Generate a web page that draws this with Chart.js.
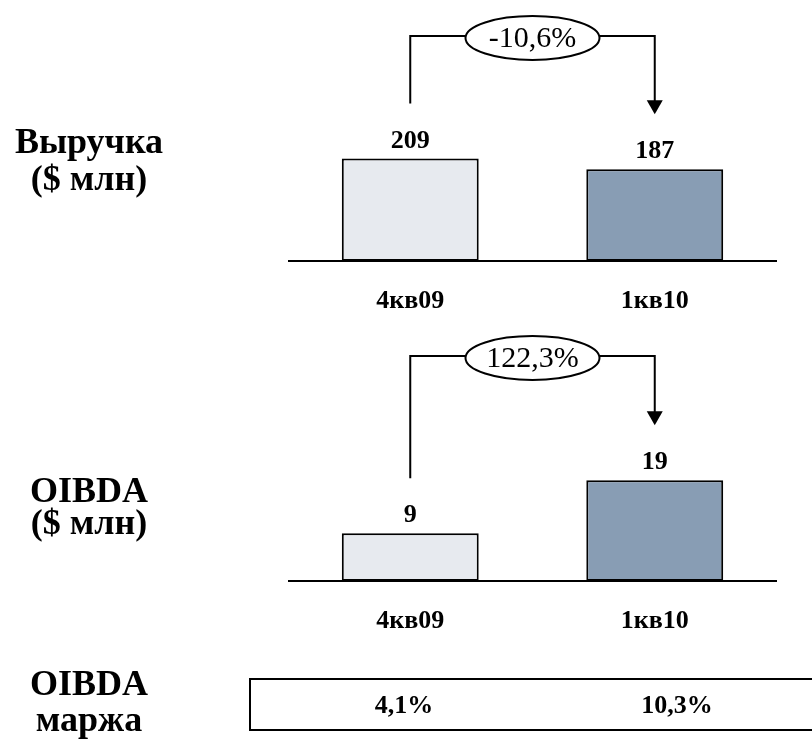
<!DOCTYPE html>
<html lang="ru">
<head>
<meta charset="utf-8">
<title>Выручка и OIBDA: 4кв09 – 1кв10</title>
<script src="https://cdn.jsdelivr.net/npm/chart.js@4/dist/chart.umd.min.js"></script>
<style>
  html, body { margin: 0; padding: 0; background: #ffffff; }
  #wrap { position: relative; width: 812px; height: 740px; overflow: hidden; }
  canvas { position: absolute; left: 0; }
  #revenueChart { top: 0; }
  #oibdaChart { top: 320px; }
</style>
</head>
<body>
<div id="wrap">
  <canvas id="revenueChart" width="812" height="320"></canvas>
  <canvas id="oibdaChart" width="812" height="420"></canvas>
</div>
<script>
// Quarters and reported figures
const quarters = ['4кв09', '1кв10'];
const revenue = [209, 187];          // $ млн
const oibda = [9, 19];               // $ млн
const revenueChange = -10.6;         // %
const oibdaChange = 122.3;           // %
const oibdaMargin = [4.1, 10.3];     // %

const barColors = ['#E7EAEF', '#889DB4'];
const SERIF = '"Liberation Serif", "Times New Roman", serif';

const fmtPct = v => v.toFixed(1).replace('.', ',') + '%';

function line(ctx, x1, y1, x2, y2) {
  ctx.beginPath();
  ctx.moveTo(x1, y1);
  ctx.lineTo(x2, y2);
  ctx.stroke();
}

// Baseline, value labels, quarter labels, change bracket and side captions
const annotate = {
  id: 'annotate',
  afterDraw(chart, args, opts) {
    const ctx = chart.ctx;
    const { left, right, top, bottom } = chart.chartArea;
    const meta = chart.getDatasetMeta(0);
    const values = chart.data.datasets[0].data;
    ctx.save();
    ctx.strokeStyle = '#000';
    ctx.fillStyle = '#000';
    ctx.lineWidth = 2;

    // axis baseline
    line(ctx, left, bottom, right, bottom);

    // values above bars and quarter names under the baseline
    ctx.textAlign = 'center';
    ctx.textBaseline = 'alphabetic';
    ctx.font = 'bold 26px ' + SERIF;
    meta.data.forEach((bar, i) => {
      ctx.fillText(String(values[i]), bar.x, bar.y - 11);
      ctx.fillText(chart.data.labels[i], bar.x, bottom + 47);
    });

    // change bracket with arrow
    const b0 = meta.data[0], b1 = meta.data[1];
    const yLine = top - 29;
    const cx = (b0.x + b1.x) / 2;
    const cy = yLine + 2;
    const rx = 67, ry = 22;
    const tipY = b1.y - 55;
    ctx.lineWidth = 2;
    ctx.beginPath();
    ctx.moveTo(b0.x, b0.y - 55);
    ctx.lineTo(b0.x, yLine);
    ctx.lineTo(cx - rx, yLine);
    ctx.stroke();
    ctx.beginPath();
    ctx.moveTo(cx + rx, yLine);
    ctx.lineTo(b1.x, yLine);
    ctx.lineTo(b1.x, tipY - 13);
    ctx.stroke();
    ctx.beginPath();
    ctx.moveTo(b1.x - 8, tipY - 14);
    ctx.lineTo(b1.x + 8, tipY - 14);
    ctx.lineTo(b1.x, tipY);
    ctx.closePath();
    ctx.fill();

    ctx.beginPath();
    ctx.ellipse(cx, cy, rx, ry, 0, 0, Math.PI * 2);
    ctx.fillStyle = '#fff';
    ctx.fill();
    ctx.stroke();
    ctx.fillStyle = '#000';
    ctx.font = '30px ' + SERIF;
    ctx.textBaseline = 'middle';
    ctx.fillText(fmtPct(opts.change), cx, cy + 1);

    // side caption
    ctx.textBaseline = 'alphabetic';
    ctx.font = 'bold 36px ' + SERIF;
    (opts.caption || []).forEach(c => ctx.fillText(c.text, 89, c.y));

    ctx.restore();
  }
};

// Margin strip under the OIBDA chart
const marginStrip = {
  id: 'marginStrip',
  afterDraw(chart, args, opts) {
    const ctx = chart.ctx;
    ctx.save();
    ctx.strokeStyle = '#000';
    ctx.lineWidth = 2;
    ctx.strokeRect(250, 359, 600, 51);
    ctx.fillStyle = '#000';
    ctx.font = 'bold 26px ' + SERIF;
    ctx.textAlign = 'center';
    ctx.textBaseline = 'alphabetic';
    const xs = [404, 677];
    oibdaMargin.forEach((m, i) => ctx.fillText(fmtPct(m), xs[i], 393));
    ctx.restore();
  }
};

function makeChart(id, values, yMax, bottomPad, change, caption, extra) {
  return new Chart(document.getElementById(id), {
    type: 'bar',
    data: {
      labels: quarters,
      datasets: [{
        data: values,
        backgroundColor: barColors,
        borderColor: '#000',
        borderWidth: 2,
        borderSkipped: false,
        categoryPercentage: 1,
        barPercentage: 0.56
      }]
    },
    options: {
      responsive: false,
      animation: false,
      devicePixelRatio: 1,
      layout: { padding: { left: 288, right: 35, top: 65, bottom: bottomPad } },
      scales: {
        x: { display: false },
        y: { display: false, min: 0, max: yMax }
      },
      plugins: {
        legend: { display: false },
        tooltip: { enabled: false },
        annotate: { change, caption }
      }
    },
    plugins: [annotate].concat(extra || [])
  });
}

makeChart('revenueChart', revenue, 400, 59, revenueChange,
  [{ text: 'Выручка', y: 153 }, { text: '($ млн)', y: 190 }]);

makeChart('oibdaChart', oibda, 37, 159, oibdaChange,
  [{ text: 'OIBDA', y: 182 }, { text: '($ млн)', y: 214 },
   { text: 'OIBDA', y: 375 }, { text: 'маржа', y: 411 }], [marginStrip]);
</script>
</body>
</html>
